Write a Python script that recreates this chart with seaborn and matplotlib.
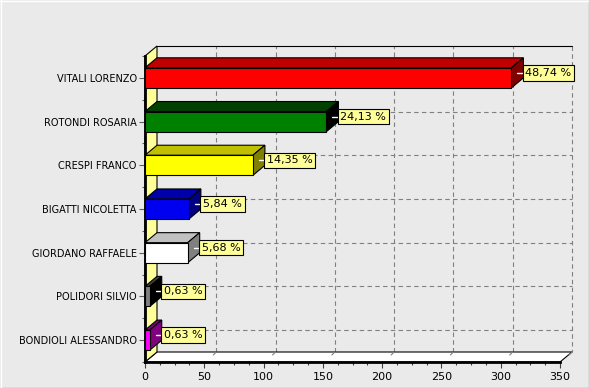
import numpy as np
import matplotlib
matplotlib.use('Agg')
import matplotlib.pyplot as plt
from matplotlib.patches import Polygon
from matplotlib.lines import Line2D
from matplotlib.transforms import IdentityTransform
import seaborn as sns

names = ['VITALI LORENZO', 'ROTONDI ROSARIA', 'CRESPI FRANCO', 'BIGATTI NICOLETTA',
         'GIORDANO RAFFAELE', 'POLIDORI SILVIO', 'BONDIOLI ALESSANDRO']
votes = [309, 153, 91, 37, 36, 4, 4]
front_col = ['#FF0000', '#008000', '#FFFF00', '#0000F0', '#FFFFFF', '#808080', '#FF00FF']
top_col = ['#C00000', '#004000', '#C0C000', '#0000A8', '#C0C0C0', '#404040', '#800080']
side_col = ['#800000', '#000000', '#808000', '#000080', '#808080', '#000000', '#800080']
xticks = [0, 50, 100, 150, 200, 250, 300, 350]

sns.set_style('white')
plt.rcParams['font.family'] = ['DejaVu Sans']
plt.rcParams['text.color'] = 'black'
plt.rcParams['xtick.labelcolor'] = 'black'
plt.rcParams['ytick.labelcolor'] = 'black'

W, H = 589, 388
DX, DY = 12, 10
fig = plt.figure(figsize=(W / 100, H / 100), dpi=100, facecolor='#EAEAEA')
ax = fig.add_axes([145 / W, (H - 362) / H, (560 - 145) / W, (362 - 56) / H])
ax.set_facecolor('none')

sns.barplot(x=votes, y=names, hue=names, palette=front_col, orient='h', width=0.46,
            saturation=1, edgecolor='black', linewidth=0.8, legend=False, ax=ax, zorder=5)
ax.set_xlim(0, 350)
ax.set_ylim(6.5, -0.5)
ax.set_xlabel('')
ax.set_ylabel('')

ident = IdentityTransform()


def px(x, y, back=False):
    X, Y = ax.transData.transform((x, y))
    return (X + DX, Y + DY) if back else (X, Y)


def poly(pts, fc, z, ec='black', lw=0.8):
    ax.add_patch(Polygon(pts, closed=True, fc=fc, ec=ec, lw=lw, transform=ident,
                         clip_on=False, zorder=z))


def line(p, q, z, **kw):
    ax.add_line(Line2D([p[0], q[0]], [p[1], q[1]], transform=ident, clip_on=False,
                       zorder=z, **kw))


y0, y1 = 6.5, -0.5
# back wall
poly([px(0, y0, 1), px(350, y0, 1), px(350, y1, 1), px(0, y1, 1)], '#EAEAEA', 0, ec='none')
line(px(0, y1, 1), px(350, y1, 1), 1, color='black', lw=0.8)
line(px(350, y1, 1), px(350, y0, 1), 0.6, color='#808080', lw=0.8, ls=(0, (4, 3)))
for t in xticks[1:-1]:
    line(px(t, y0, 1), px(t, y1, 1), 0.6, color='#808080', lw=0.8, ls=(0, (4, 3)))
for i in range(len(names)):
    line(px(0, i, 1), px(350, i, 1), 0.6, color='#808080', lw=0.8, ls=(0, (4, 3)))

# floor and left wall
poly([px(0, y0), px(350, y0), px(350, y0, 1), px(0, y0, 1)], 'white', 1)
poly([px(0, y0), px(0, y1), px(0, y1, 1), px(0, y0, 1)], '#FFFF99', 1)
for t in xticks[1:]:
    bx, by = px(t, y0, 1)
    line((bx - 3, by - 3), (bx, by), 1.2, color='#808080', lw=0.8)

# 3d faces of the bars
for i, p in enumerate(ax.patches[:len(votes)]):
    x, y, w, h = p.get_x(), p.get_y(), p.get_width(), p.get_height()
    poly([px(x, y), px(x + w, y), px(x + w, y, 1), px(x, y, 1)], top_col[i], 3)
    poly([px(x + w, y), px(x + w, y + h), px(x + w, y + h, 1), px(x + w, y, 1)], side_col[i], 3)

# value labels
total = sum(votes)
for i, v in enumerate(votes):
    X, Y = px(v, i)
    line((X + DX / 2, Y + DY / 2), (X + DX + 2, Y + DY / 2), 6, color='white', lw=1)
    ax.annotate(f'{v / total * 100:.2f} %'.replace('.', ','), xy=(v, i),
                xytext=(DX + 2, DY / 2), textcoords='offset pixels', ha='left', va='center',
                fontsize=8, color='black', zorder=7, annotation_clip=False,
                bbox=dict(boxstyle='square,pad=0.25', fc='#FFFF99', ec='black', lw=0.8))

for s in ['top', 'right']:
    ax.spines[s].set_visible(False)
for s in ['left', 'bottom']:
    ax.spines[s].set_linewidth(2)
    ax.spines[s].set_color('black')
    ax.spines[s].set_zorder(4)

ax.set_xticks(xticks)
ax.set_xticks(np.arange(0, 351, 12.5), minor=True)
ax.set_yticks(np.arange(-0.5, 7, 1), minor=True)
ax.tick_params(axis='x', which='major', length=4, width=0.8, color='#404040', labelsize=8, pad=3,
               bottom=True)
ax.tick_params(axis='x', which='minor', length=2, width=0.8, color='#404040', bottom=True)
ax.tick_params(axis='y', which='major', length=4, width=0.8, color='#606060', labelsize=7, pad=2,
               left=True)
ax.tick_params(axis='y', which='minor', length=2, width=0.8, color='#606060', left=True)

fig.add_artist(Line2D([0, 1], [0.5 / H, 0.5 / H], transform=fig.transFigure, color='#A0A0A0', lw=1))
fig.add_artist(Line2D([1 - 0.5 / W, 1 - 0.5 / W], [0, 1], transform=fig.transFigure, color='#A0A0A0', lw=1))
fig.add_artist(Line2D([0, 1], [1 - 0.5 / H, 1 - 0.5 / H], transform=fig.transFigure, color='white', lw=1))
fig.add_artist(Line2D([0.5 / W, 0.5 / W], [0, 1], transform=fig.transFigure, color='white', lw=1))

fig.savefig('out.png', dpi=100, facecolor=fig.get_facecolor())
